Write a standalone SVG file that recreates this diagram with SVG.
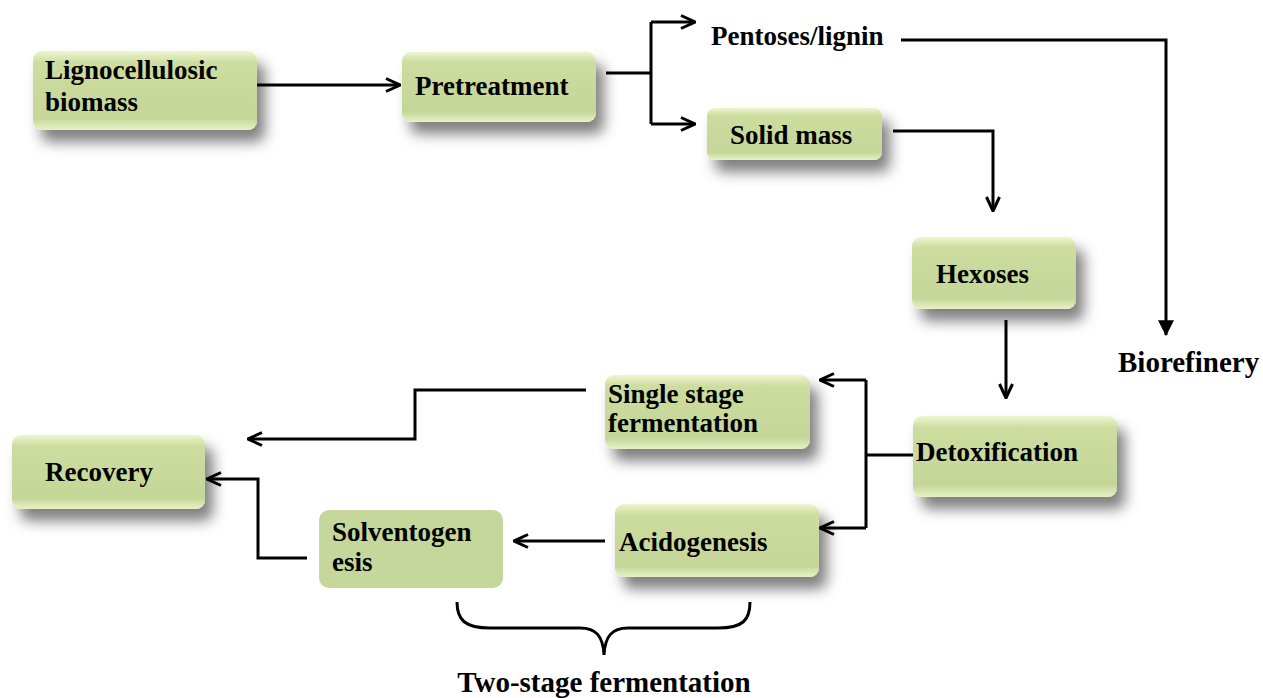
<svg xmlns="http://www.w3.org/2000/svg" width="1263" height="698" viewBox="0 0 1263 698">
<defs>
<linearGradient id="gv" x1="0" y1="0" x2="0" y2="1">
<stop offset="0" stop-color="#eef6cf"/>
<stop offset="0.15" stop-color="#cddc9f"/>
<stop offset="0.85" stop-color="#c5d699"/>
<stop offset="1" stop-color="#e8f2c6"/>
</linearGradient>
<filter id="sh" x="-20%" y="-20%" width="150%" height="170%">
<feDropShadow dx="8" dy="12" stdDeviation="7" flood-color="#000" flood-opacity="0.5"/>
</filter>
<marker id="oa" viewBox="0 0 16 16" refX="15" refY="8" markerWidth="16" markerHeight="16" markerUnits="userSpaceOnUse" orient="auto">
<path d="M1,1.5 L15,8 L1,14.5" fill="none" stroke="#000" stroke-width="3"/>
</marker>
<marker id="fa" viewBox="0 0 14 14" refX="13" refY="7" markerWidth="16" markerHeight="16" markerUnits="userSpaceOnUse" orient="auto">
<path d="M0,0 L14,7 L0,14 Z" fill="#000"/>
</marker>
<style>
.n{fill:url(#gv);filter:url(#sh)}
.flat{fill:#c5d79b}
.t{font-family:"Liberation Serif","Times New Roman",serif;font-weight:bold;font-size:27px;fill:#000}
.c{fill:none;stroke:#000;stroke-width:3}
</style>
</defs>
<g id="connectors">
<path class="c" d="M257,85 H400" marker-end="url(#oa)"/>
<path class="c" d="M606,73 H651"/>
<path class="c" d="M651,22 V124"/>
<path class="c" d="M651,22 H695" marker-end="url(#oa)"/>
<path class="c" d="M651,124 H695" marker-end="url(#oa)"/>
<path class="c" d="M901,40 H1166 V335" marker-end="url(#fa)"/>
<path class="c" d="M893,131 H993 V211" marker-end="url(#oa)"/>
<path class="c" d="M1006,320 V398" marker-end="url(#oa)"/>
<path class="c" d="M913,455 H866"/>
<path class="c" d="M866,380 V528"/>
<path class="c" d="M866,380 H820" marker-end="url(#oa)"/>
<path class="c" d="M866,528 H820" marker-end="url(#oa)"/>
<path class="c" d="M586,390 H415 V439 H248" marker-end="url(#oa)"/>
<path class="c" d="M605,541 H514" marker-end="url(#oa)"/>
<path class="c" d="M307,558 H258 V479 H207" marker-end="url(#oa)"/>
<path class="c" d="M457,602 C457,620 465,628 490,628 H580 C596,628 603,636 604,655 C605,636 612,628 628,628 H718 C743,628 750,620 750,602"/>
</g>
<g id="n-lig"><rect class="n" x="33" y="51" width="224" height="79" rx="9"/><text class="t" x="45" y="79">Lignocellulosic</text><text class="t" x="45" y="111">biomass</text></g>
<g id="n-pre"><rect class="n" x="402" y="52" width="194" height="70" rx="9"/><text class="t" x="415" y="95">Pretreatment</text></g>
<g id="n-pent"><text class="t" x="711" y="45">Pentoses/lignin</text></g>
<g id="n-solid"><rect class="n" x="707" y="108" width="175" height="52" rx="8"/><text class="t" x="730" y="144">Solid mass</text></g>
<g id="n-hex"><rect class="n" x="912" y="237" width="164" height="72" rx="9"/><text class="t" x="936" y="283">Hexoses</text></g>
<g id="n-bio"><text class="t" x="1118" y="372" style="font-size:29px">Biorefinery</text></g>
<g id="n-detox"><rect class="n" x="913" y="416" width="204" height="81" rx="9"/><text class="t" x="916" y="461">Detoxification</text></g>
<g id="n-single"><rect class="n" x="605" y="375" width="205" height="74" rx="9"/><text class="t" x="608" y="403">Single stage</text><text class="t" x="608" y="432">fermentation</text></g>
<g id="n-acido"><rect class="n" x="615" y="504" width="204" height="73" rx="9"/><text class="t" x="619" y="551">Acidogenesis</text></g>
<g id="n-solvent"><rect class="flat" x="319" y="510" width="184" height="78" rx="10"/><text class="t" x="332" y="541">Solventogen</text><text class="t" x="332" y="571">esis</text></g>
<g id="n-rec"><rect class="n" x="12" y="435" width="193" height="74" rx="9"/><text class="t" x="45" y="481">Recovery</text></g>
<g id="n-two"><text class="t" x="604" y="692" text-anchor="middle" style="font-size:29px">Two-stage fermentation</text></g>
</svg>
